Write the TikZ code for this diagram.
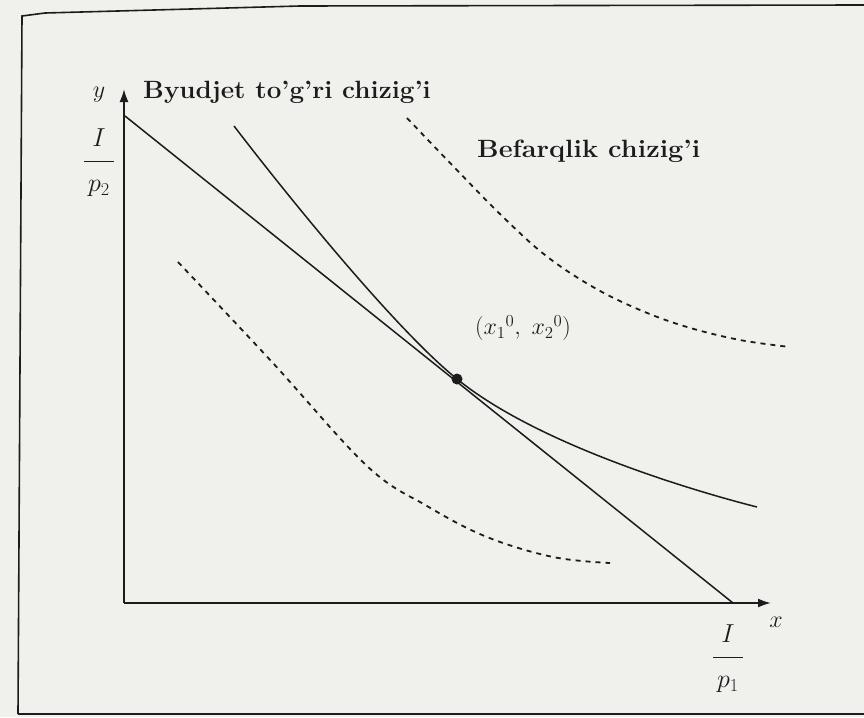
\RequirePackage{fix-cm}
\documentclass[tikz,border=0pt]{standalone}
\usetikzlibrary{arrows.meta}
\definecolor{paper}{RGB}{240,240,237}
\definecolor{ink}{RGB}{28,28,28}
\begin{document}
\begin{tikzpicture}[x=1pt,y=-1pt,
  axis/.style={draw=ink, line width=1.9pt, -{Latex[length=13pt,width=9pt]}},
  frameline/.style={draw=ink, line width=1.6pt},
  curve/.style={draw=ink, line width=1.5pt},
  dcurve/.style={draw=ink, line width=1.8pt, dash pattern=on 5pt off 5pt},
  lbl/.style={font=\bfseries\fontsize{25}{30}\selectfont, text=ink, inner sep=0pt},
  mlbl/.style={font=\fontsize{24}{28}\selectfont, text=ink, inner sep=0pt},
  flbl/.style={font=\fontsize{26}{30}\selectfont, text=ink, inner sep=0pt, anchor=base},
  dot/.style={circle, fill=ink, inner sep=0pt, minimum size=11pt}]
\fill[paper] (0,0) rectangle (864,717);
\useasboundingbox (0,0) rectangle (864,717);
% frame
\coordinate (F1) at (18,714);
\coordinate (F2) at (22,16);
\coordinate (F3) at (45,13);
\coordinate (F4) at (300,6);
\coordinate (F5) at (864,5);
\coordinate (F6) at (864,714);
\draw[frameline] (F1) -- (F2) -- (F3) -- (F4) -- (F5);
\draw[frameline] (F1) -- (F6);
% axes
\coordinate (O) at (124,603);
\coordinate (Ytip) at (124,89);
\coordinate (Xtip) at (771,603);
\draw[axis] (O) -- (Ytip);
\draw[axis] (O) -- (Xtip);
% budget line
\coordinate (B1) at (125,116);
\coordinate (B2) at (733,603);
\draw[curve] (B1) -- (B2);
% optimum
\node[dot] (E) at (457,379) {};
% indifference curve through optimum
\coordinate (U1) at (234,126);
\coordinate (U2) at (757,507);
\draw[curve] (U1) .. controls (300,212) and (400,333) .. (E.center)
  .. controls (537,444) and (690,490) .. (U2);
% higher indifference curve (dashed)
\draw[dcurve] plot[smooth, tension=0.6] coordinates
  {(407,118) (452,165) (500,214) (545,255) (593,287) (640,310) (687,327) (740,340) (790,347)};
% lower indifference curve (dashed)
\draw[dcurve] plot[smooth, tension=0.6] coordinates
  {(178,262) (272,362) (367,466) (427,506) (487,537) (553,557) (610,563)};
% labels
\node[mlbl] (ylab) at (99,95) {$y$};
\node[lbl, anchor=west] (budget) at (143,92) {\scalebox{1.04}[1]{Byudjet to'g'ri chizig'i}};
\node[lbl, anchor=west] (indiff) at (477,151) {\scalebox{1.08}[1]{Befarqlik chizig'i}};
\node[mlbl] (pt) at (523,328) {$(x_1{}^0,\; x_2{}^0)$};
\node[flbl] (Ip2) at (99,167.5) {$\displaystyle\frac{\rule[-13pt]{0pt}{13pt}I}{\rule{0pt}{29pt}\hbox to 30pt{\hss$p_2$\hss}}$};
\node[mlbl] (xlab) at (776,622) {$x$};
\node[flbl] (Ip1) at (728,663.5) {$\displaystyle\frac{\rule[-13pt]{0pt}{13pt}I}{\rule{0pt}{29pt}\hbox to 30pt{\hss$p_1$\hss}}$};
\end{tikzpicture}
\end{document}
